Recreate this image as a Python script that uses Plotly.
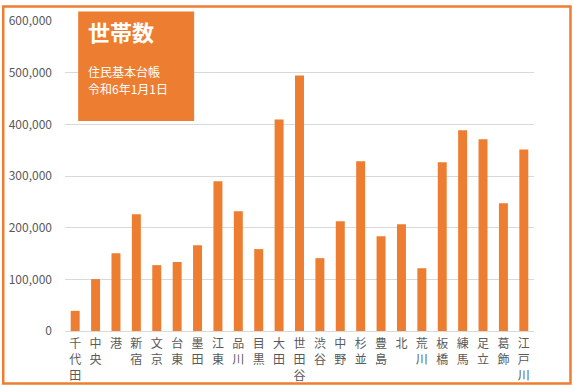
import plotly.graph_objects as go

wards = ["千代田", "中央", "港", "新宿", "文京", "台東", "墨田", "江東", "品川", "目黒", "大田", "世田谷",
         "渋谷", "中野", "杉並", "豊島", "北", "荒川", "板橋", "練馬", "足立", "葛飾", "江戸川"]
households = [39000, 100500, 150500, 226000, 127500, 133500, 166000, 290000, 232000, 158500, 409500, 494500,
              141000, 212500, 328500, 183500, 206500, 121500, 326500, 388500, 371000, 247500, 351500]
y_ticks = [0, 100000, 200000, 300000, 400000, 500000, 600000]
title_text = "世帯数"
sub_line1 = "住民基本台帳"
sub_line2 = "令和6年1月1日"

ORANGE = "#ED7D31"
GRAY = "#595959"
FONT = "Noto Sans CJK JP"

tick_text = ["<br>".join(list(w)) for w in wards]

fig = go.Figure(go.Bar(x=wards, y=households, marker_color=ORANGE, marker_line_width=0))

fig.update_layout(
    width=574, height=388,
    margin=dict(l=64.8, r=40, t=20.5, b=56.7, autoexpand=False),
    paper_bgcolor="white", plot_bgcolor="white",
    bargap=0.56,
    showlegend=False,
    font=dict(family=FONT, color=GRAY, size=12),
)
fig.update_xaxes(
    tickmode="array", tickvals=wards, ticktext=tick_text,
    tickfont=dict(size=12, color=GRAY, family=FONT),
    showline=True, linecolor="#d9d9d9", linewidth=1,
    ticks="", showgrid=False, tickangle=0, ticklabelstandoff=2, automargin=False,
)
fig.update_yaxes(
    range=[0, 600000], tickvals=y_ticks, tickformat=",",
    showgrid=True, gridcolor="#d9d9d9", gridwidth=1,
    zeroline=False, showline=False, ticks="",
    tickfont=dict(size=12, color=GRAY, family=FONT),
    ticklabelstandoff=12, automargin=False,
)

# outer border
fig.add_shape(type="rect", xref="paper", yref="paper",
              x0=-0.1317, x1=1.0778, y0=-0.1696, y1=1.0467,
              line=dict(color=ORANGE, width=2.5), fillcolor="rgba(0,0,0,0)", layer="above")
# title box
fig.add_shape(type="rect", xref="paper", yref="paper",
              x0=0.0281, x1=0.2754, y0=0.6776, y1=1.0306,
              line=dict(width=0), fillcolor=ORANGE, layer="above")

fig.add_annotation(xref="paper", yref="paper", x=0.044, y=0.9662, xanchor="left", yanchor="middle",
                   text="<b>" + title_text + "</b>", showarrow=False,
                   font=dict(size=22, color="white", family=FONT))
fig.add_annotation(xref="paper", yref="paper", x=0.044, y=0.836, xanchor="left", yanchor="middle",
                   text=sub_line1, showarrow=False, font=dict(size=12, color="white", family=FONT))
fig.add_annotation(xref="paper", yref="paper", x=0.044, y=0.7828, xanchor="left", yanchor="middle",
                   text=sub_line2, showarrow=False, font=dict(size=12, color="white", family=FONT))

fig.write_html("out.html", config={"displayModeBar": False, "staticPlot": True},
               post_script="document.body.style.margin='0';")
